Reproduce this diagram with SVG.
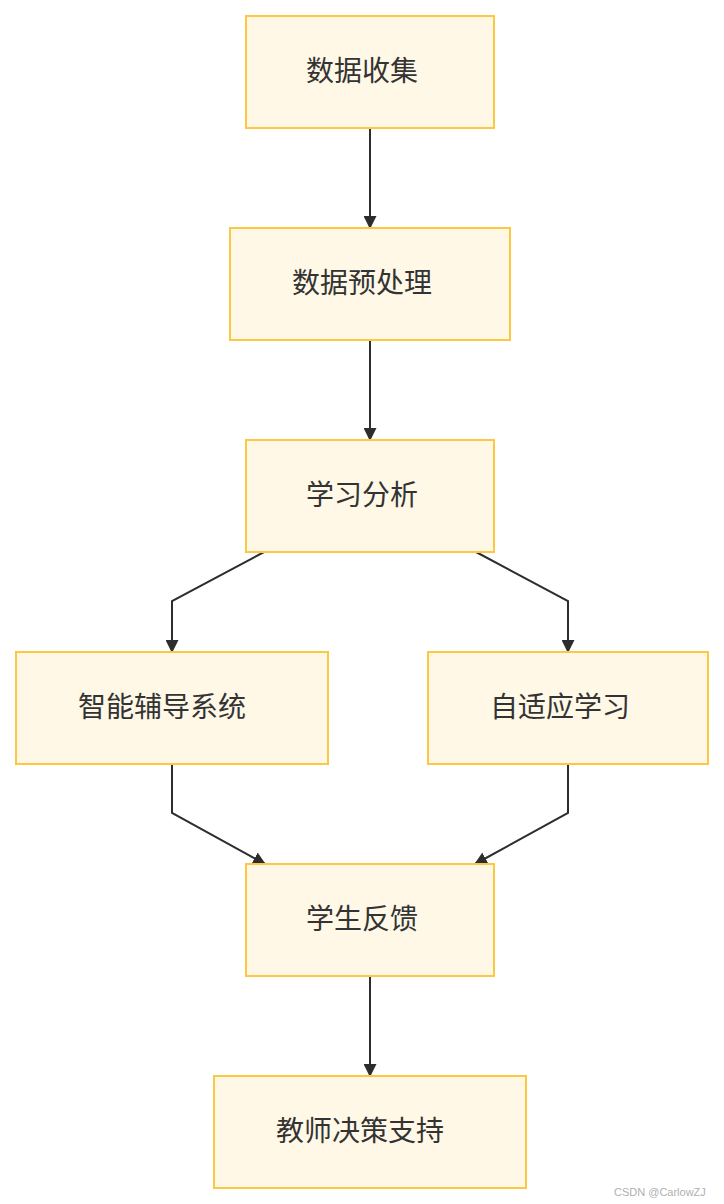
<svg xmlns="http://www.w3.org/2000/svg" width="724" height="1204" viewBox="0 0 724 1204">
<defs>
<style>
.node rect{fill:#fff8e6;stroke:#fcc844;stroke-width:2}
.node text{font-family:"Noto Sans CJK SC","Noto Sans",sans-serif;font-size:28px;fill:#333;text-anchor:middle;dominant-baseline:central}
.edges path{fill:none;stroke:#2d2d30;stroke-width:2}
.wm{font-family:"Liberation Sans",sans-serif;font-size:11px;fill:#b0b0b0}
</style>
<marker id="arr" viewBox="0 0 12 12" refX="11" refY="6" markerWidth="13" markerHeight="13" markerUnits="userSpaceOnUse" orient="auto">
<path d="M0,0 L12,6 L0,12 z" fill="#2d2d30"/>
</marker>
</defs>
<rect width="724" height="1204" fill="#ffffff"/>
<g class="edges">
<path d="M370,128 L370,228" marker-end="url(#arr)"/>
<path d="M370,340 L370,440" marker-end="url(#arr)"/>
<path d="M264,552 L172,601 L172,652" marker-end="url(#arr)"/>
<path d="M476,552 L568,601 L568,652" marker-end="url(#arr)"/>
<path d="M172,764 L172,813 L265,864" marker-end="url(#arr)"/>
<path d="M568,764 L568,813 L475,864" marker-end="url(#arr)"/>
<path d="M370,976 L370,1076" marker-end="url(#arr)"/>
</g>
<g id="n1" class="node"><rect x="246" y="16" width="248" height="112"/><text x="362" y="69">数据收集</text></g>
<g id="n2" class="node"><rect x="230" y="228" width="280" height="112"/><text x="362" y="281">数据预处理</text></g>
<g id="n3" class="node"><rect x="246" y="440" width="248" height="112"/><text x="362" y="493">学习分析</text></g>
<g id="n4" class="node"><rect x="16" y="652" width="312" height="112"/><text x="162" y="705">智能辅导系统</text></g>
<g id="n5" class="node"><rect x="428" y="652" width="280" height="112"/><text x="560" y="705">自适应学习</text></g>
<g id="n6" class="node"><rect x="246" y="864" width="248" height="112"/><text x="362" y="917">学生反馈</text></g>
<g id="n7" class="node"><rect x="214" y="1076" width="312" height="112"/><text x="360" y="1129">教师决策支持</text></g>
<text class="wm" x="614" y="1196">CSDN @CarlowZJ</text>
</svg>
